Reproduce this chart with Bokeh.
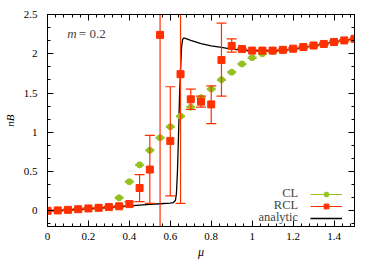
import math
from bokeh.plotting import figure
from bokeh.models import (Range1d, LinearAxis, SingleIntervalTicker, CustomJSTickFormatter,
                          Label, Legend, LegendItem)
from bokeh.embed import file_html
from bokeh.resources import INLINE

# ---------------- data ----------------
rcl_mu = [0.0, 0.05, 0.1, 0.15, 0.2, 0.25, 0.3, 0.35, 0.4, 0.45, 0.5, 0.55, 0.6, 0.65,
          0.7, 0.75, 0.8, 0.85, 0.9, 0.95, 1.0, 1.05, 1.1, 1.15, 1.2, 1.25, 1.3, 1.35,
          1.4, 1.45, 1.5]
rcl_val = [0.0, 0.005, 0.012, 0.02, 0.03, 0.038, 0.047, 0.057, 0.085, 0.29, 0.525, 2.24,
           0.89, 1.74, 1.42, 1.39, 1.355, 1.92, 2.10, 2.06, 2.04, 2.04, 2.04, 2.05, 2.065,
           2.085, 2.105, 2.125, 2.15, 2.17, 2.19]
rcl_lo = [-0.01, -0.005, 0.002, 0.01, 0.02, 0.028, 0.037, 0.047, 0.06, 0.118, 0.095, -1.0,
          0.19, 0.094, 1.29, 1.32, 1.11, 1.46, 2.02, 2.05, 2.03, 2.03, 2.03, 2.04, 2.055,
          2.075, 2.095, 2.115, 2.14, 2.16, 2.18]
rcl_hi = [0.01, 0.015, 0.022, 0.03, 0.04, 0.048, 0.057, 0.067, 0.115, 0.46, 0.96, 5.0,
          1.58, 5.0, 1.55, 1.46, 1.59, 2.39, 2.19, 2.07, 2.05, 2.05, 2.05, 2.06, 2.075,
          2.095, 2.115, 2.135, 2.16, 2.18, 2.20]

cl_mu = [0.35, 0.4, 0.45, 0.5, 0.55, 0.6, 0.65, 0.7, 0.75, 0.8, 0.85, 0.9, 0.95, 1.0,
         1.05, 1.1, 1.15, 1.2, 1.25, 1.3, 1.35, 1.4, 1.45, 1.5]
cl_val = [0.165, 0.37, 0.585, 0.77, 0.93, 1.07, 1.205, 1.32, 1.44, 1.55, 1.67, 1.765,
          1.87, 1.95, 2.0, 2.03, 2.045, 2.06, 2.08, 2.10, 2.12, 2.145, 2.165, 2.185]
cl_err = [0.008] * len(cl_val)

an_mu = [0.0, 0.1, 0.2, 0.3, 0.4, 0.5, 0.55, 0.6, 0.615, 0.625, 0.63, 0.635, 0.64, 0.645,
         0.65, 0.655, 0.66, 0.665, 0.67, 0.68, 0.7, 0.75, 0.8, 0.85, 0.9, 0.95, 1.0, 1.1,
         1.2, 1.3, 1.4, 1.5]
an_val = [0.0, 0.01, 0.025, 0.042, 0.062, 0.082, 0.09, 0.097, 0.105, 0.13, 0.22, 0.5,
          0.95, 1.45, 1.8, 2.08, 2.18, 2.2, 2.2, 2.19, 2.17, 2.13, 2.1, 2.08, 2.06, 2.045,
          2.035, 2.035, 2.055, 2.1, 2.15, 2.19]

legend_labels = ["CL", "RCL", "analytic"]
legend_text_y = [0.231, 0.077, -0.073]

# ---------------- styles ----------------
FONT = "Liberation Serif"
RED = "#ff3000"
GREEN = "#95c11f"

p = figure(width=374, height=263, output_backend="svg", toolbar_location=None,
           x_range=Range1d(0, 1.5), y_range=Range1d(-0.2, 2.5),
           x_axis_type=None, y_axis_type=None,
           min_border_left=46, min_border_right=20, min_border_top=14, min_border_bottom=37)
p.background_fill_color = "white"
p.border_fill_color = "white"
p.outline_line_color = "black"

xt = SingleIntervalTicker(interval=0.2, num_minor_ticks=5)
yt = SingleIntervalTicker(interval=0.5, num_minor_ticks=3)
fmt = CustomJSTickFormatter(code="return String(Number(tick.toFixed(2)));")
blank = CustomJSTickFormatter(code="return '';")


def style(ax, labels, standoff=6):
    ax.major_tick_in = 6
    ax.major_tick_out = 0
    ax.minor_tick_in = 3
    ax.minor_tick_out = 0
    ax.axis_line_color = "black"
    ax.major_tick_line_color = "black"
    ax.minor_tick_line_color = "black"
    ax.major_label_text_font = FONT
    ax.major_label_text_font_size = "11px"
    ax.major_label_text_color = "black"
    ax.major_label_standoff = standoff if labels else 0


bx = LinearAxis(ticker=xt, formatter=fmt, axis_label="μ")
style(bx, True, 6)
bx.axis_label_text_font = FONT
bx.axis_label_text_font_style = "italic"
bx.axis_label_text_font_size = "12px"
bx.axis_label_text_color = "black"
bx.axis_label_standoff = 2
p.add_layout(bx, "below")

ly = LinearAxis(ticker=yt, formatter=fmt, axis_label="nB")
style(ly, True, 10)
ly.axis_label_text_font = FONT
ly.axis_label_text_font_style = "italic"
ly.axis_label_text_font_size = "11px"
ly.axis_label_text_color = "black"
ly.axis_label_standoff = 5
p.add_layout(ly, "left")

tx = LinearAxis(ticker=xt, formatter=blank)
style(tx, False)
p.add_layout(tx, "above")
ry = LinearAxis(ticker=yt, formatter=blank)
style(ry, False)
p.add_layout(ry, "right")

# analytic
an_r = p.line(an_mu, an_val, line_color="black", line_width=1.3)

# CL
cl_lo = [v - e for v, e in zip(cl_val, cl_err)]
cl_hi = [v + e for v, e in zip(cl_val, cl_err)]
cl_seg = p.segment(x0=cl_mu, y0=cl_lo, x1=cl_mu, y1=cl_hi, line_color=GREEN, line_width=1.2)
p.scatter(cl_mu, cl_lo, marker="dash", size=9, line_color=GREEN, line_width=1.2)
p.scatter(cl_mu, cl_hi, marker="dash", size=9, line_color=GREEN, line_width=1.2)
cl_pts = p.scatter(cl_mu, cl_val, marker="circle", size=6, fill_color=GREEN, line_color=GREEN)

# RCL
rcl_seg = p.segment(x0=rcl_mu, y0=rcl_lo, x1=rcl_mu, y1=rcl_hi, line_color=RED, line_width=1.2)
p.scatter(rcl_mu, rcl_lo, marker="dash", size=10, line_color=RED, line_width=1.2)
p.scatter(rcl_mu, rcl_hi, marker="dash", size=10, line_color=RED, line_width=1.2)
rcl_pts = p.scatter(rcl_mu, rcl_val, marker="square", size=7, fill_color=RED, line_color=RED)

legend = Legend(items=[LegendItem(label=" ", renderers=[cl_seg, cl_pts]),
                       LegendItem(label=" ", renderers=[rcl_seg, rcl_pts]),
                       LegendItem(label=" ", renderers=[an_r])],
                location=(263, 2), padding=0, spacing=0, margin=0,
                glyph_width=32, glyph_height=12, label_height=12, label_standoff=0,
                label_text_font=FONT, label_text_font_size="12.5px",
                border_line_color=None, background_fill_alpha=0)
p.add_layout(legend)

for txt, ty in zip(legend_labels, legend_text_y):
    p.add_layout(Label(x=1.2245, y=ty, text=txt, text_font=FONT, text_font_size="12.5px",
                       text_align="right", text_baseline="middle"))

# texts
p.add_layout(Label(x=0.097, y=2.255, text="m", text_font=FONT, text_font_style="italic",
                   text_font_size="13px", text_baseline="alphabetic"))
p.add_layout(Label(x=0.153, y=2.255, text="= 0.2", text_font=FONT,
                   text_font_size="13px", text_baseline="alphabetic"))

open("out.html", "w").write(file_html(p, INLINE))
